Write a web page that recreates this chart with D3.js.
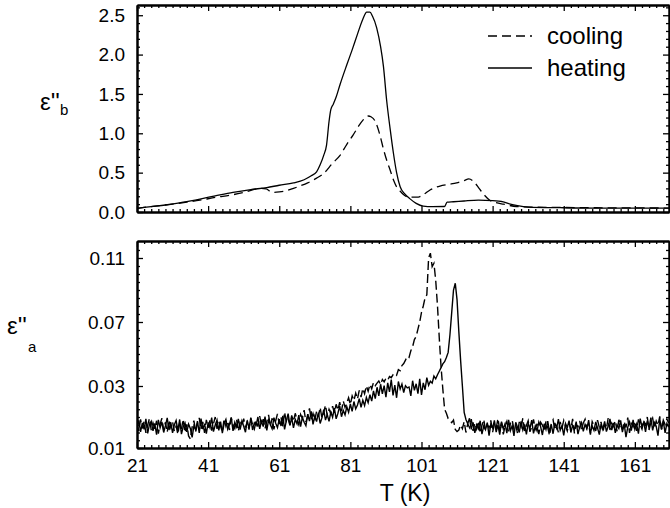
<!DOCTYPE html>
<html>
<head>
<meta charset="utf-8">
<script src="https://cdn.jsdelivr.net/npm/d3@7"></script>
<style>
  body { margin: 0; background: #fff; }
  svg { font-family: "Liberation Sans", Arial, sans-serif; }
  .axis path, .axis line { stroke: #000; }
  .axis text { font-size: 19px; fill: #000; }
</style>
</head>
<body>
<div id="chart"></div>
<script>
// ---- data ----
// upper panel, eps''_b : [T (K), value]
const heatingB = [[21,0.047],[25,0.068],[29,0.089],[34,0.125],[38.7,0.165],[43,0.205],[48,0.25],[53,0.285],
  [57.5,0.31],[61,0.34],[65,0.37],[68,0.41],[70,0.46],[71.5,0.51],[72.5,0.60],[73.5,0.72],[74.3,0.85],
  [75,1.15],[75.5,1.30],[76.2,1.37],[77,1.46],[78.1,1.62],[80,1.87],[81.5,2.06],[83,2.26],[84.5,2.45],
  [85.6,2.54],[86.5,2.54],[87.2,2.49],[88.4,2.34],[89.5,2.10],[90.3,1.85],[91.2,1.42],[92.2,1.05],
  [93.1,0.75],[94,0.50],[95,0.32],[96.3,0.23],[97.7,0.17],[99.5,0.11],[101.5,0.075],[104,0.068],
  [107.5,0.07],[108.2,0.125],[110,0.13],[113,0.14],[117,0.15],[121,0.145],[124,0.13],[126,0.10],
  [128,0.08],[131,0.063],[140,0.055],[150,0.05],[160,0.05],[170.6,0.05]];
const coolingB = [[21,0.047],[26,0.075],[31,0.10],[35,0.125],[38.7,0.15],[43,0.185],[48,0.22],[52,0.26],
  [55.6,0.30],[57.3,0.295],[58.5,0.26],[59.5,0.25],[61,0.255],[63,0.27],[65,0.30],[66.8,0.33],[69,0.37],
  [71.5,0.43],[73.5,0.49],[76,0.62],[78.1,0.72],[80,0.86],[81.8,0.98],[83.3,1.09],[84.6,1.17],[86,1.22],
  [86.8,1.21],[87.9,1.16],[89.3,0.98],[90.3,0.80],[91.2,0.66],[92.2,0.53],[93.1,0.41],[94,0.32],
  [94.9,0.27],[96,0.22],[97.3,0.19],[100.1,0.19],[101.5,0.22],[103.4,0.28],[106.2,0.33],[108.5,0.35],
  [110.9,0.37],[113,0.40],[114.3,0.42],[116,0.37],[117.2,0.30],[118.4,0.23],[120.2,0.15],[122,0.12],
  [124,0.10],[127.7,0.07],[132,0.062],[140,0.058],[150,0.054],[160,0.052],[170.6,0.05]];

// lower panel, eps''_a : sampled every 0.5 K from 21 K
const tStartA = 21, tStepA = 0.5;
const heatingA = [
  0.0168,0.0189,0.0152,0.0181,0.0160,0.0194,0.0147,0.0176,0.0186,0.0155,
  0.0179,0.0143,0.0191,0.0165,0.0184,0.0150,0.0172,0.0197,0.0158,0.0183,
  0.0149,0.0175,0.0189,0.0156,0.0192,0.0145,0.0169,0.0181,0.0152,0.0177,
  0.0163,0.0134,0.0171,0.0158,0.0187,0.0149,0.0195,0.0161,0.0178,0.0146,
  0.0182,0.0166,0.0198,0.0153,0.0174,0.0190,0.0157,0.0185,0.0148,0.0179,
  0.0192,0.0161,0.0176,0.0199,0.0155,0.0183,0.0168,0.0194,0.0159,0.0187,
  0.0170,0.0151,0.0189,0.0164,0.0196,0.0158,0.0181,0.0173,0.0200,0.0162,
  0.0186,0.0169,0.0201,0.0157,0.0190,0.0175,0.0162,0.0198,0.0180,0.0166,
  0.0193,0.0171,0.0204,0.0160,0.0188,0.0211,0.0174,0.0197,0.0165,0.0192,
  0.0178,0.0206,0.0169,0.0199,0.0183,0.0172,0.0209,0.0187,0.0218,0.0176,
  0.0203,0.0185,0.0214,0.0179,0.0197,0.0224,0.0190,0.0208,0.0186,0.0216,
  0.0199,0.0229,0.0194,0.0212,0.0236,0.0201,0.0221,0.0207,0.0233,0.0215,
  0.0242,0.0218,0.0250,0.0226,0.0239,0.0259,0.0231,0.0254,0.0237,0.0263,
  0.0246,0.0272,0.0251,0.0284,0.0259,0.0296,0.0268,0.0311,0.0275,0.0302,
  0.0264,0.0319,0.0281,0.0340,0.0270,0.0305,0.0262,0.0328,0.0290,0.0312,
  0.0279,0.0302,0.0294,0.0297,0.0268,0.0333,0.0286,0.0314,0.0275,0.0345,
  0.0271,0.0320,0.0288,0.0352,0.0305,0.0330,0.0318,0.0362,0.0345,0.0370,
  0.0392,0.0415,0.0438,0.0452,0.0478,0.0510,0.0620,0.0760,0.0900,0.0942,
  0.0838,0.0640,0.0460,0.0300,0.0215,0.0192,0.0178,0.0196,0.0160,0.0183,
  0.0149,0.0175,0.0162,0.0188,0.0145,0.0171,0.0159,0.0182,0.0140,0.0177,
  0.0165,0.0189,0.0151,0.0174,0.0143,0.0185,0.0161,0.0178,0.0148,0.0191,
  0.0156,0.0172,0.0139,0.0183,0.0167,0.0150,0.0186,0.0158,0.0176,0.0144,
  0.0180,0.0163,0.0190,0.0147,0.0171,0.0155,0.0184,0.0169,0.0142,0.0178,
  0.0160,0.0187,0.0152,0.0175,0.0146,0.0181,0.0164,0.0193,0.0157,0.0172,
  0.0141,0.0179,0.0166,0.0188,0.0150,0.0173,0.0159,0.0185,0.0145,0.0168,
  0.0182,0.0154,0.0176,0.0162,0.0190,0.0148,0.0171,0.0157,0.0184,0.0165,
  0.0143,0.0177,0.0160,0.0186,0.0153,0.0170,0.0194,0.0158,0.0181,0.0149,
  0.0174,0.0163,0.0189,0.0151,0.0178,0.0135,0.0167,0.0184,0.0156,0.0191,
  0.0160,0.0177,0.0146,0.0195,0.0169,0.0183,0.0152,0.0188,0.0164,0.0198,
  0.0157,0.0182,0.0170,0.0140,0.0193,0.0161,0.0186,0.0149,0.0179,0.0167];
const coolingA = [
  0.0178,0.0155,0.0192,0.0163,0.0186,0.0149,0.0174,0.0195,0.0158,0.0181,
  0.0161,0.0188,0.0146,0.0177,0.0196,0.0157,0.0183,0.0151,0.0190,0.0166,
  0.0185,0.0154,0.0171,0.0144,0.0180,0.0162,0.0193,0.0150,0.0176,0.0139,
  0.0129,0.0167,0.0188,0.0153,0.0179,0.0197,0.0160,0.0184,0.0149,0.0191,
  0.0165,0.0189,0.0156,0.0178,0.0200,0.0162,0.0185,0.0171,0.0152,0.0194,
  0.0170,0.0187,0.0158,0.0197,0.0176,0.0163,0.0191,0.0154,0.0182,0.0172,
  0.0195,0.0166,0.0184,0.0159,0.0198,0.0175,0.0161,0.0189,0.0169,0.0203,
  0.0174,0.0193,0.0163,0.0185,0.0207,0.0171,0.0196,0.0160,0.0188,0.0210,
  0.0177,0.0199,0.0168,0.0216,0.0182,0.0194,0.0173,0.0205,0.0186,0.0212,
  0.0191,0.0175,0.0208,0.0195,0.0222,0.0184,0.0203,0.0228,0.0193,0.0211,
  0.0189,0.0219,0.0201,0.0231,0.0196,0.0214,0.0238,0.0204,0.0225,0.0210,
  0.0235,0.0213,0.0241,0.0222,0.0248,0.0219,0.0252,0.0231,0.0245,0.0262,
  0.0240,0.0268,0.0253,0.0277,0.0258,0.0286,0.0264,0.0292,0.0275,0.0301,
  0.0283,0.0310,0.0291,0.0322,0.0302,0.0318,0.0331,0.0309,0.0341,0.0326,
  0.0348,0.0337,0.0359,0.0352,0.0371,0.0380,0.0368,0.0402,0.0395,0.0428,
  0.0440,0.0462,0.0485,0.0478,0.0520,0.0545,0.0590,0.0610,0.0655,0.0700,
  0.0760,0.0800,0.0850,0.0870,0.1100,0.1130,0.1046,0.1067,0.0960,0.0800,
  0.0600,0.0420,0.0290,0.0225,0.0212,0.0195,0.0188,0.0182,0.0190,0.0160,
  0.0153,0.0158,0.0174,0.0162,0.0185,0.0150,0.0178,0.0166,0.0193,0.0155,
  0.0180,0.0161,0.0187,0.0148,0.0172,0.0192,0.0157,0.0176,0.0165,0.0189,
  0.0151,0.0177,0.0163,0.0195,0.0158,0.0182,0.0144,0.0170,0.0186,0.0154,
  0.0179,0.0190,0.0160,0.0175,0.0147,0.0184,0.0168,0.0196,0.0155,0.0173,
  0.0188,0.0152,0.0169,0.0192,0.0161,0.0178,0.0145,0.0183,0.0174,0.0157,
  0.0186,0.0166,0.0140,0.0179,0.0191,0.0158,0.0171,0.0150,0.0184,0.0163,
  0.0189,0.0170,0.0155,0.0182,0.0161,0.0194,0.0147,0.0176,0.0168,0.0187,
  0.0159,0.0181,0.0193,0.0164,0.0178,0.0143,0.0185,0.0172,0.0155,0.0190,
  0.0167,0.0184,0.0152,0.0176,0.0163,0.0196,0.0158,0.0180,0.0170,0.0188,
  0.0154,0.0191,0.0172,0.0160,0.0185,0.0166,0.0198,0.0149,0.0179,0.0168,
  0.0186,0.0155,0.0192,0.0174,0.0161,0.0189,0.0170,0.0200,0.0158,0.0183,
  0.0196,0.0164,0.0187,0.0173,0.0202,0.0159,0.0190,0.0176,0.0194,0.0181];

// tick labels
const xTicks = [21, 41, 61, 81, 101, 121, 141, 161];
const yTicksB = [0.0, 0.5, 1.0, 1.5, 2.0, 2.5];
const yTicksA = [0.01, 0.03, 0.07, 0.11];

// ---- layout ----
const width = 670, height = 508;
const left = 137, right = 669;
const topB = 5, botB = 212;     // upper panel frame
const topA = 241, botA = 448;   // lower panel frame

const svg = d3.select("#chart").append("svg")
  .attr("width", width).attr("height", height);

// scales
const x = d3.scaleLinear().domain([21, 170.6]).range([left, right]);
const yB = d3.scaleLinear().domain([0, 2.63]).range([botB, topB]);
// lower axis is not evenly divided, so use a piecewise scale through the labelled ticks
const yA = d3.scaleLinear()
  .domain([0.01, 0.03, 0.07, 0.11, 0.1206])
  .range([botA, 386, 322, 258, topA]);

const xMinor = d3.range(23, 170, 2).filter(t => (t - 21) % 20 !== 0);
const yMinorB = d3.range(0.1, 2.63, 0.1).filter(v => Math.abs(v * 2 - Math.round(v * 2)) > 1e-6);
const yMinorA = d3.range(0.0125, 0.03, 0.0025)
  .concat(d3.range(0.035, 0.12, 0.005).filter(v => yTicksA.every(t => Math.abs(t - v) > 1e-6)));

// clip paths
const defs = svg.append("defs");
defs.append("clipPath").attr("id", "clipB").append("rect")
  .attr("x", left).attr("y", topB).attr("width", right - left).attr("height", botB - topB);
defs.append("clipPath").attr("id", "clipA").append("rect")
  .attr("x", left).attr("y", topA).attr("width", right - left).attr("height", botA - topA);

// ---- curves ----
const lineB = d3.line().x(d => x(d[0])).y(d => yB(d[1])).curve(d3.curveMonotoneX);
const lineA = d3.line().x((d, i) => x(tStartA + i * tStepA)).y(d => yA(d));

svg.append("path").datum(coolingB).attr("d", lineB).attr("clip-path", "url(#clipB)")
  .style("fill", "none").style("stroke", "#000").style("stroke-width", 1.3)
  .style("stroke-dasharray", "9,5");
svg.append("path").datum(heatingB).attr("d", lineB).attr("clip-path", "url(#clipB)")
  .style("fill", "none").style("stroke", "#000").style("stroke-width", 1.3);

svg.append("path").datum(coolingA).attr("d", lineA).attr("clip-path", "url(#clipA)")
  .style("fill", "none").style("stroke", "#000").style("stroke-width", 1.4)
  .style("stroke-dasharray", "9,4");
svg.append("path").datum(heatingA).attr("d", lineA).attr("clip-path", "url(#clipA)")
  .style("fill", "none").style("stroke", "#000").style("stroke-width", 1.4);

// ---- axes (ticks point inward on all four sides) ----
function frame(yScale, yMajor, yMinor, yFormat, top, bot, xLabels) {
  const major = 6, minor = 3;
  // minor ticks first
  svg.append("g").attr("class", "axis").attr("transform", `translate(0,${bot})`)
    .call(d3.axisBottom(x).tickValues(xMinor).tickSize(-minor).tickSizeOuter(0).tickFormat(""));
  svg.append("g").attr("class", "axis").attr("transform", `translate(0,${top})`)
    .call(d3.axisTop(x).tickValues(xMinor).tickSize(-minor).tickSizeOuter(0).tickFormat(""));
  svg.append("g").attr("class", "axis").attr("transform", `translate(${left},0)`)
    .call(d3.axisLeft(yScale).tickValues(yMinor).tickSize(-minor).tickSizeOuter(0).tickFormat(""));
  svg.append("g").attr("class", "axis").attr("transform", `translate(${right},0)`)
    .call(d3.axisRight(yScale).tickValues(yMinor).tickSize(-minor).tickSizeOuter(0).tickFormat(""));

  // major ticks
  svg.append("g").attr("class", "axis").attr("transform", `translate(0,${bot})`)
    .call(d3.axisBottom(x).tickValues(xTicks).tickSize(-major).tickSizeOuter(0)
      .tickPadding(11).tickFormat(xLabels ? d3.format("d") : ""));
  svg.append("g").attr("class", "axis").attr("transform", `translate(0,${top})`)
    .call(d3.axisTop(x).tickValues(xTicks).tickSize(-major).tickSizeOuter(0).tickFormat(""));
  svg.append("g").attr("class", "axis").attr("transform", `translate(${left},0)`)
    .call(d3.axisLeft(yScale).tickValues(yMajor).tickSize(-major).tickSizeOuter(0)
      .tickPadding(12).tickFormat(yFormat));
  svg.append("g").attr("class", "axis").attr("transform", `translate(${right},0)`)
    .call(d3.axisRight(yScale).tickValues(yMajor).tickSize(-major).tickSizeOuter(0).tickFormat(""));

  svg.selectAll(".axis line").style("stroke-width", 1.3);
  svg.selectAll(".axis path").style("stroke-width", 2);
}

frame(yB, yTicksB, yMinorB, d3.format(".1f"), topB, botB, false);
frame(yA, yTicksA, yMinorA, d3.format(".2f"), topA, botA, true);

// ---- axis titles ----
const yTitleB = svg.append("text").attr("x", 40).attr("y", 110).style("font-size", "24px");
yTitleB.append("tspan").text("ε''");
yTitleB.append("tspan").attr("dy", 5).style("font-size", "15px").text("b");

const yTitleA = svg.append("text").attr("x", 7).attr("y", 334).style("font-size", "24px");
yTitleA.append("tspan").text("ε''");
yTitleA.append("tspan").attr("dx", 1).attr("dy", 18).style("font-size", "15px").text("a");

svg.append("text").attr("x", (left + right) / 2 + 2).attr("y", 501)
  .attr("text-anchor", "middle").style("font-size", "23px").text("T (K)");

// ---- legend ----
const legend = svg.append("g");
const legendItems = [["cooling", "9,5", 36], ["heating", null, 68]];
legendItems.forEach(([label, dash, ly]) => {
  legend.append("line").attr("x1", 488).attr("x2", 532).attr("y1", ly).attr("y2", ly)
    .style("stroke", "#000").style("stroke-width", 1.3)
    .style("stroke-dasharray", dash || null);
  legend.append("text").attr("x", 547).attr("y", ly + 8).style("font-size", "24px").text(label);
});
</script>
</body>
</html>
